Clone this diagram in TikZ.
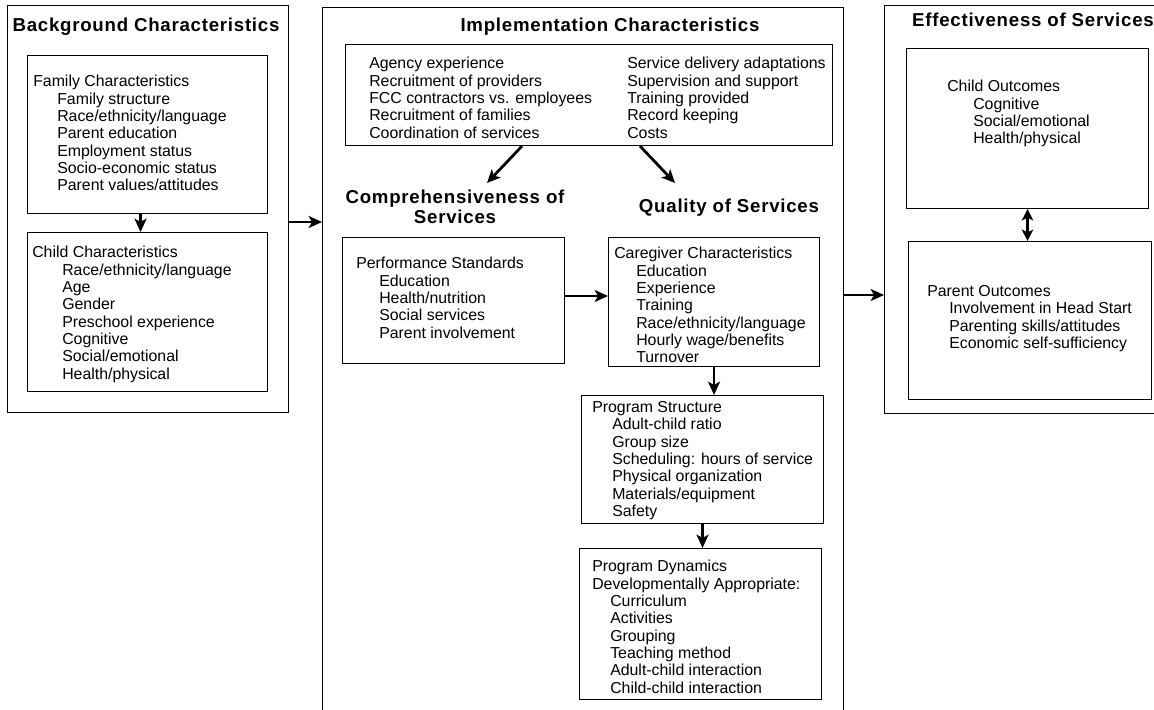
\documentclass[tikz,border=0pt]{standalone}
\usepackage{fontspec}
\setmainfont{Liberation Sans}
\newfontfamily\headfont[LetterSpace=4]{Liberation Sans}
\usetikzlibrary{arrows.meta}

\begin{document}
\begin{tikzpicture}[x=0.75pt,y=-0.75pt]
  \tikzstyle{frame}=[draw,line width=0.8pt,anchor=north west,inner sep=0pt];
  \tikzstyle{list}=[anchor=north west,align=left,inner sep=0pt,font=\fontsize{11.9}{13}\selectfont];
  \tikzstyle{head}=[inner sep=0pt,font=\headfont\bfseries\fontsize{14}{15}\selectfont];
  \tikzstyle{flow}=[line width=2.1pt,-{Stealth[length=10pt,width=9pt,inset=2.5pt]}];
  \tikzstyle{twoway}=[line width=2pt,{Stealth[length=8.5pt,width=8.5pt,inset=2pt]}-{Stealth[length=8.5pt,width=8.5pt,inset=2pt]}];

  \useasboundingbox (0,0) rectangle (1154,710);
  \clip (0,0) rectangle (1154,710);

  % background
  \node[frame,minimum width=210.75pt,minimum height=305.25pt] (bg) at (7,5) {};
  \node[head,anchor=base] (bgtitle) at (146,32) {Background Characteristics};
  \node[frame,minimum width=180pt,minimum height=118.5pt] (fam) at (27,55) {};
  \node[list] (famtext) at (33,75) {Family Characteristics\\
    \hspace*{18pt}Family structure\\
    \hspace*{18pt}Race/ethnicity/language\\
    \hspace*{18pt}Parent education\\
    \hspace*{18pt}Employment status\\
    \hspace*{18pt}Socio-economic status\\
    \hspace*{18pt}Parent values/attitudes};
  \node[frame,minimum width=180pt,minimum height=119.25pt] (chd) at (27,232) {};
  \node[list] (chdtext) at (32,246) {Child Characteristics\\
    \hspace*{22.5pt}Race/ethnicity/language\\
    \hspace*{22.5pt}Age\\
    \hspace*{22.5pt}Gender\\
    \hspace*{22.5pt}Preschool experience\\
    \hspace*{22.5pt}Cognitive\\
    \hspace*{22.5pt}Social/emotional\\
    \hspace*{22.5pt}Health/physical};

  % implementation
  \node[frame,minimum width=390.75pt,minimum height=540pt] (impl) at (322,7) {};
  \node[head,anchor=base] (impltitle) at (610,32) {Implementation Characteristics};
  \node[frame,minimum width=365.25pt,minimum height=75.75pt] (implbox) at (345,44) {};
  \node[list] (implleft) at (369,57) {Agency experience\\
    Recruitment of providers\\
    FCC contractors vs. employees\\
    Recruitment of families\\
    Coordination of services};
  \node[list] (implright) at (627,57) {Service delivery adaptations\\
    Supervision and support\\
    Training provided\\
    Record keeping\\
    Costs};
  \node[head,anchor=north,align=center] (comptitle) at (455,190) {Comprehensiveness of\\Services};
  \node[head,anchor=base] (qualtitle) at (729,212) {Quality of Services};
  \coordinate (comptip) at (487,183);
  \coordinate (qualtip) at (675,183);

  \node[frame,minimum width=166.5pt,minimum height=94.5pt] (perf) at (342,237) {};
  \node[list] (perftext) at (356,257) {Performance Standards\\
    \hspace*{17.25pt}Education\\
    \hspace*{17.25pt}Health/nutrition\\
    \hspace*{17.25pt}Social services\\
    \hspace*{17.25pt}Parent involvement};
  \node[frame,minimum width=158.25pt,minimum height=96.75pt] (care) at (608,237) {};
  \node[list] (caretext) at (614,247) {Caregiver Characteristics\\
    \hspace*{16.5pt}Education\\
    \hspace*{16.5pt}Experience\\
    \hspace*{16.5pt}Training\\
    \hspace*{16.5pt}Race/ethnicity/language\\
    \hspace*{16.5pt}Hourly wage/benefits\\
    \hspace*{16.5pt}Turnover};
  \node[frame,minimum width=181.5pt,minimum height=96pt] (struct) at (581,395) {};
  \node[list] (structtext) at (592,401) {Program Structure\\
    \hspace*{15pt}Adult-child ratio\\
    \hspace*{15pt}Group size\\
    \hspace*{15pt}Scheduling: hours of service\\
    \hspace*{15pt}Physical organization\\
    \hspace*{15pt}Materials/equipment\\
    \hspace*{15pt}Safety};
  \node[frame,minimum width=181.5pt,minimum height=113.25pt] (dyn) at (579,548) {};
  \node[list] (dyntext) at (592,560) {Program Dynamics\\
    Developmentally Appropriate:\\
    \hspace*{13.5pt}Curriculum\\
    \hspace*{13.5pt}Activities\\
    \hspace*{13.5pt}Grouping\\
    \hspace*{13.5pt}Teaching method\\
    \hspace*{13.5pt}Adult-child interaction\\
    \hspace*{13.5pt}Child-child interaction};

  % effectiveness
  \node[frame,minimum width=225pt,minimum height=306pt] (eff) at (884,5) {};
  \node[head,anchor=base] (efftitle) at (1033,27) {Effectiveness of Services};
  \node[frame,minimum width=181.5pt,minimum height=120pt] (cout) at (906,48) {};
  \node[list] (couttext) at (947,80) {Child Outcomes\\
    \hspace*{19.5pt}Cognitive\\
    \hspace*{19.5pt}Social/emotional\\
    \hspace*{19.5pt}Health/physical};
  \node[frame,minimum width=182.25pt,minimum height=118.5pt] (pout) at (908,241) {};
  \node[list] (pouttext) at (927,285) {Parent Outcomes\\
    \hspace*{16.5pt}Involvement in Head Start\\
    \hspace*{16.5pt}Parenting skills/attitudes\\
    \hspace*{16.5pt}Economic self-sufficiency};

  % arrows
  \draw[flow] ([xshift=-5.25pt]fam.south) -- ([xshift=-5.25pt]chd.north);
  \draw[flow] (bg.east |- 0,222) -- (impl.west |- 0,222);
  \draw[flow] (impl.east |- 0,295) -- (eff.west |- 0,295);
  \draw[flow] (implbox.south -| 522,0) -- (comptip);
  \draw[flow] (implbox.south -| 640,0) -- (qualtip);
  \draw[flow] (perf.east |- 0,296) -- (care.west |- 0,296);
  \draw[flow] (care.south) -- (care.south |- struct.north);
  \draw[flow] (struct.south) -- (struct.south |- dyn.north);
  \draw[twoway] (cout.south) -- (cout.south |- pout.north);

\end{tikzpicture}
\end{document}
